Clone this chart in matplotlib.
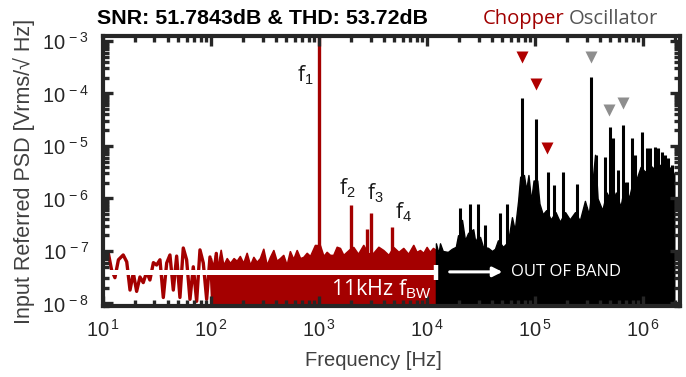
import matplotlib
matplotlib.use("Agg")
import matplotlib.pyplot as plt
from matplotlib.ticker import LogLocator, FuncFormatter, NullFormatter
import numpy as np

plt.rcParams['mathtext.fontset'] = 'custom'
plt.rcParams['mathtext.rm'] = 'Liberation Sans'
plt.rcParams['mathtext.it'] = 'Liberation Sans:italic'
plt.rcParams['mathtext.bf'] = 'Liberation Sans:bold'

# chopper band (red): low-frequency noise trace
red_lf_f = [10, 11.2, 12.0, 12.9, 13.9, 15.4, 16.6, 17.8, 19.1, 20.5, 22.0, 23.6, 25.4,
            27.2, 29.3, 31.4, 33.7, 36.2, 38.9, 41.7, 44.8, 48.1, 51.6, 55.4, 59.5,
            63.9, 68.6, 73.7, 79.1, 84.9, 91.2, 97.9, 105, 112, 120]
red_lf_v = [9e-8, 9.2e-8, 4.4e-8, 3.1e-8, 6.8e-8, 8.4e-8, 6.2e-8, 1.8e-8, 3.8e-8, 1.7e-8,
            3.2e-8, 2.5e-8, 4.0e-8, 2.8e-8, 6.0e-8, 5.4e-8, 6.8e-8, 1.3e-8, 5.9e-8, 8.4e-8,
            1.8e-8, 8.0e-8, 1.3e-8, 1.14e-7, 6.8e-8, 1.2e-8, 5.0e-8, 1.1e-8, 1.05e-7, 5.9e-8,
            1.2e-8, 7.7e-8, 1.0e-8, 9.0e-8, 1.0e-8]

# chopper band (red): upper edge of the dense noise floor
red_f = [100, 104, 109, 116, 123, 130, 140, 150, 162, 173, 185, 199, 214, 230, 247, 265,
         284, 305, 328, 352, 378, 405, 435, 467, 502, 538, 578, 622, 668, 716, 770, 826,
         918, 1021, 1100, 1178, 1265, 1357, 1460, 1563, 1680, 1803, 1940, 2078, 2300,
         2572, 2850, 3184, 3550, 3939, 4400, 4875, 5450, 6034, 6700, 7470, 8000, 8610,
         9250, 9930, 10600, 11370, 12120]
red_v = [7.3e-8, 5.0e-8, 8.4e-8, 5.4e-8, 1.05e-7, 5.4e-8, 7.3e-8, 5.9e-8, 7.3e-8, 6.5e-8,
         8.0e-8, 5.9e-8, 9.2e-8, 5.4e-8, 7.7e-8, 6.2e-8, 7.3e-8, 1.1e-7, 5.4e-8, 7.7e-8,
         1.04e-7, 6.5e-8, 7.3e-8, 8.4e-8, 5.4e-8, 9.9e-8, 7.0e-8, 1.04e-7, 7.3e-8, 7.7e-8,
         9.2e-8, 8.0e-8, 1.3e-7, 1.28e-7, 8.0e-8, 9.6e-8, 8.4e-8, 8.4e-8, 1.2e-7, 1.14e-7,
         8.4e-8, 9.6e-8, 1.1e-7, 1.19e-7, 8.8e-8, 1.3e-7, 9.0e-8, 9.2e-8, 1.2e-7, 1.04e-7,
         8.4e-8, 1.19e-7, 9.6e-8, 1.14e-7, 8.8e-8, 1.3e-7, 9.6e-8, 1.04e-7, 9.2e-8, 1.19e-7,
         9.6e-8, 1.14e-7, 1.04e-7]

# harmonics of the 1 kHz tone
harm_f = [1000, 2000, 2770, 3000, 4750]
harm_v = [1.3e-3, 7.5e-7, 2.6e-7, 5.3e-7, 2.9e-7]

# out-of-band (black): noise floor upper edge
blk_f = [12.1e3, 12.8e3, 13.2e3, 14.0e3, 15.6e3, 17.0e3, 18.5e3, 19.4e3, 20.5e3, 21.1e3,
         22.5e3, 24.0e3, 26.8e3, 28e3, 29.2e3, 31.0e3, 33e3, 36.7e3, 40e3, 42.6e3, 45.4e3,
         50.6e3, 56.3e3, 61.2e3, 65e3, 69.8e3, 73e3, 79e3, 83e3, 87e3, 92e3, 97e3, 105e3,
         110e3, 118e3, 127e3, 140e3, 155e3, 170e3, 190e3, 210e3, 235e3, 260e3, 290e3,
         315e3, 340e3, 360e3, 380e3, 420e3, 460e3, 520e3, 560e3, 620e3, 680e3, 740e3,
         800e3, 880e3, 950e3, 1.05e6, 1.15e6, 1.3e6, 1.45e6, 1.6e6, 1.75e6, 1.9e6, 1.95e6]
blk_v = [1.4e-7, 9e-8, 1.4e-7, 1.0e-7, 9.6e-8, 1.1e-7, 1.2e-7, 2.0e-7, 1.2e-7, 3.9e-7,
         1.6e-7, 2.2e-7, 2.6e-7, 1.5e-7, 1.8e-7, 1.85e-7, 1.2e-7, 1.15e-7, 1.0e-7, 1.1e-7,
         1.6e-7, 1.2e-7, 1.5e-7, 4.4e-7, 2.5e-7, 9e-7, 2.6e-6, 2.8e-6, 1.45e-6, 2.8e-6,
         9e-7, 2.2e-6, 2.2e-6, 8e-7, 5e-7, 6e-7, 4e-7, 5.5e-7, 3.6e-7, 5.5e-7, 4e-7,
         5.5e-7, 3.8e-7, 9e-7, 5e-7, 2e-6, 6.8e-6, 1e-6, 6e-7, 1.3e-6, 8e-7, 1.3e-6, 7e-7,
         2e-6, 1e-6, 2e-6, 2.5e-6, 4e-6, 3.2e-6, 4.4e-6, 3.5e-6, 4.4e-6, 3.2e-6, 4e-6,
         3e-6, 3e-6]

# out-of-band spurs
spur_f = [20.2e3, 24.9e3, 29.4e3, 34.3e3, 47e3, 54.6e3, 66e3, 76e3, 102e3, 132e3, 150e3,
          181e3, 245e3, 299e3, 333e3, 368e3, 445e3, 495e3, 527e3, 585e3, 653e3, 711e3,
          790e3, 845e3, 978e3, 1.09e6, 1.16e6, 1.29e6, 1.38e6, 1.5e6, 1.6e6, 1.7e6, 1.86e6]
spur_v = [6.6e-7, 7.9e-7, 7.9e-7, 3.1e-7, 5.3e-7, 7.9e-7, 2.9e-7, 8.2e-5, 3.3e-5, 3.2e-6,
          1.8e-6, 3.2e-6, 1.9e-6, 7e-7, 2.06e-4, 6.8e-6, 6.1e-6, 2.3e-5, 1.4e-5, 3.5e-6,
          2.5e-5, 2.1e-6, 1.4e-5, 6.7e-6, 1.85e-5, 9.1e-6, 9.1e-6, 9.6e-6, 9.1e-6, 7.7e-6,
          6.7e-6, 5.9e-6, 4.4e-6]

# markers
chop_f = [75.9e3, 102e3, 129e3]
chop_v = [4.96e-4, 1.52e-4, 9.2e-6]
osc_f = [333e3, 484e3, 653e3]
osc_v = [4.96e-4, 4.85e-5, 6.6e-5]

RED = '#a40000'
AX = '#262626'

fig = plt.figure(figsize=(6.86, 3.77), dpi=100)
ax = fig.add_axes([0.1501, 0.1883, 0.8411, 0.7162])
ax.set_xscale('log')
ax.set_yscale('log')
ax.set_xlim(10, 2.2e6)
ax.set_ylim(8.95e-9, 1.245e-3)

floor = 1e-9
ax.fill_between(red_f, floor, red_v, color=RED, lw=1.2, zorder=1)
ax.plot(red_lf_f, red_lf_v, color=RED, lw=2.4, zorder=1.2)
ax.vlines(harm_f, floor, harm_v, color=RED, lw=2.4, zorder=1.3)
ax.fill_between(blk_f, floor, blk_v, color='black', lw=1.0, zorder=1.4)
ax.vlines(spur_f, floor, spur_v, color='black', lw=2.2, zorder=1.5)

# in-band / out-of-band marker
ax.plot([10, 12.2e3], [4.0e-8, 4.0e-8], color='white', lw=3.6, solid_capstyle='butt', zorder=3)
ax.plot([12.2e3, 12.2e3], [5.4e-8, 2.8e-8], color='white', lw=3.2, solid_capstyle='butt', zorder=3)
ax.annotate('', xy=(53e3, 4.0e-8), xytext=(15.3e3, 4.0e-8),
            arrowprops=dict(arrowstyle='-|>', color='white', lw=2.2, mutation_scale=14), zorder=3)
ax.text(60e3, 4.0e-8, 'OUT OF BAND', color='white', fontsize=12, family='Open Sans',
        va='center', ha='left', zorder=3)
ax.text(11.1e3, 1.45e-8, r'11kHz f$_{\mathrm{BW}}$', color='white', fontsize=15.5,
        family='Open Sans', ha='right', va='baseline', zorder=3)

# harmonic labels
for lbl, xx, yy in [('f$_1$', 742, 2.25e-4), ('f$_2$', 1.82e3, 1.58e-6),
                    ('f$_3$', 3.3e3, 1.27e-6), ('f$_4$', 6.1e3, 5.5e-7)]:
    ax.text(xx, yy, lbl, fontsize=15, family='Open Sans', color='#1a1a1a',
            ha='center', va='center', zorder=3)

ax.plot(chop_f, chop_v, 'v', color='#b00000', ms=9, mec='none', zorder=3)
ax.plot(osc_f, osc_v, 'v', color='#8e8e8e', ms=9, mec='none', zorder=3)

# axes styling (matlab look)
for s in ax.spines.values():
    s.set_linewidth(3)
    s.set_color(AX)
    s.set_zorder(4)
ax.set_axisbelow(False)
ax.xaxis.set_major_locator(LogLocator(base=10, numticks=12))
ax.xaxis.set_minor_locator(LogLocator(base=10, subs=np.arange(2, 10), numticks=12))
ax.yaxis.set_major_locator(LogLocator(base=10, numticks=12))
ax.yaxis.set_minor_locator(LogLocator(base=10, subs=np.arange(2, 10), numticks=12))
fmt = FuncFormatter(lambda v, p: r'10$^{\,%d}$' % int(round(np.log10(v))))
ax.xaxis.set_major_formatter(fmt)
ax.yaxis.set_major_formatter(fmt)
ax.xaxis.set_minor_formatter(NullFormatter())
ax.yaxis.set_minor_formatter(NullFormatter())
ax.tick_params(which='both', direction='in', top=True, right=True, color=AX,
               labelcolor=AX, labelsize=14.5, width=2.4)
ax.tick_params(which='major', length=7)
ax.tick_params(which='minor', length=4)
ax.tick_params(axis='x', pad=9)
ax.tick_params(axis='y', pad=10)
for lab in ax.get_xticklabels() + ax.get_yticklabels():
    lab.set_family('Liberation Sans')

ax.set_xlabel('Frequency [Hz]', fontsize=14.5, color='#404040', family='Liberation Sans', labelpad=4)
ax.xaxis.set_label_coords(0.468, -0.165)
ax.set_ylabel('Input Referred PSD [Vrms/\u221a Hz]', fontsize=15.5, color='#404040',
              family='Liberation Sans', labelpad=5)

fig.text(97 / 686, 1 - 24 / 377, 'SNR: 51.7843dB & THD: 53.72dB', fontsize=15.4,
         fontweight='bold', family='Liberation Sans', ha='left', va='baseline')
fig.text(483 / 686, 1 - 24 / 377, 'Chopper', fontsize=14.6, color='#a00000',
         family='Open Sans', ha='left', va='baseline')
fig.text(569 / 686, 1 - 24 / 377, 'Oscillator', fontsize=14.6, color='#555555',
         family='Open Sans', ha='left', va='baseline')

fig.savefig('out.png', dpi=100)
